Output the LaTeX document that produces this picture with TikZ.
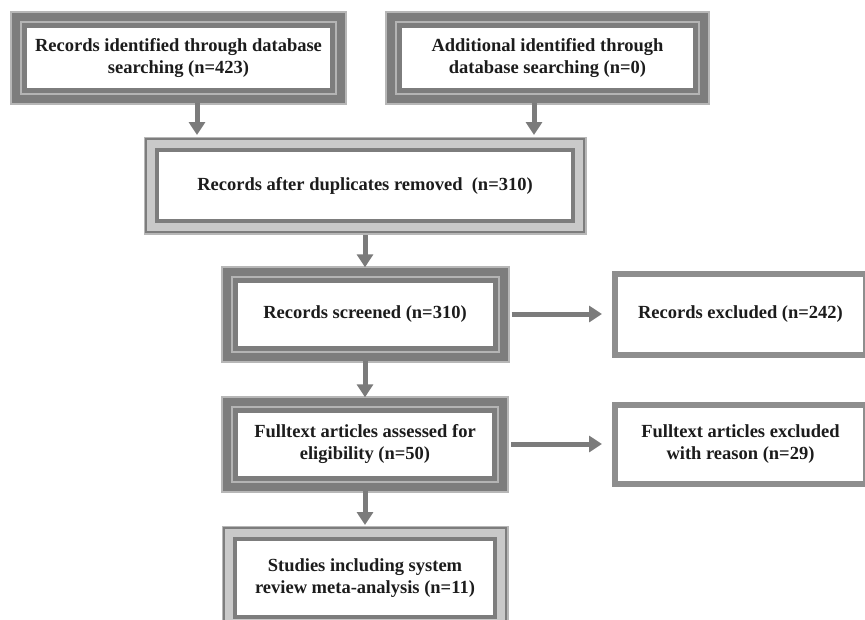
\documentclass[tikz,border=0pt]{standalone}
\usepackage{fontspec}
\setmainfont{Liberation Serif}
\usetikzlibrary{arrows.meta}
\definecolor{frame}{HTML}{7D7D7D}
\definecolor{frameL}{HTML}{B4B4B4}
\definecolor{band}{HTML}{C9C9C9}
\definecolor{frameC}{HTML}{8E8E8E}
\definecolor{arrc}{HTML}{7B7B7B}
\definecolor{txt}{HTML}{1C1C1C}
\begin{document}
\begin{tikzpicture}[x=1pt,y=-1pt,
  txtstyle/.style={font=\bfseries\fontsize{18.5}{22.5}\selectfont, text=txt, align=center, inner sep=0pt, rectangle},
  boxA/.style={txtstyle, fill=white,
     preaction={draw=frame!55, line width=34pt},
     preaction={draw=frame, line width=30pt},
     preaction={draw=frameL, line width=14pt},
     preaction={draw=frame, line width=10pt}},
  boxB/.style={txtstyle, fill=white, draw=frame, line width=4pt,
     preaction={draw=frame!55, line width=27pt},
     preaction={draw=frame, line width=24pt},
     preaction={draw=band, line width=20pt}},
  boxC/.style={txtstyle, fill=white, draw=frameC, line width=6pt},
  arr/.style={draw=arrc, line width=5pt, -{Triangle[width=16pt,length=13pt]}}
]
\useasboundingbox (0,0) rectangle (865,619);

\node[boxA, minimum width=303pt, minimum height=60pt] (b1) at (178.5,58)
  {Records identified through database\\searching (n=423)};
\node[boxA, minimum width=291pt, minimum height=60pt] (b2) at (547.5,58)
  {Additional identified through\\database searching (n=0)};
\node[boxB, minimum width=416pt, minimum height=71pt] (b3) at (365,185.5)
  {Records after duplicates removed\ \ (n=310)};
\node[boxA, minimum width=255pt, minimum height=63pt] (b4) at (365,314)
  {Records screened (n=310)};
\node[boxC, minimum width=251pt, minimum height=81pt] (b5) at (740.5,314)
  {Records excluded (n=242)};
\node[boxA, minimum width=254pt, minimum height=63pt] (b6) at (365,444)
  {Fulltext articles assessed for\\eligibility (n=50)};
\node[boxC, minimum width=251pt, minimum height=79pt] (b7) at (740.5,444)
  {Fulltext articles excluded\\with reason (n=29)};
\node[boxB, minimum width=260pt, minimum height=78pt] (b8) at (365,578)
  {Studies including system\\review meta-analysis (n=11)};

\coordinate (b3top) at ([yshift=13pt]b3.north);
\coordinate (a1s) at ([xshift=18.5pt,yshift=-15pt]b1.south);
\coordinate (a2s) at ([xshift=-13.5pt,yshift=-15pt]b2.south);
\draw[arr] (a1s) -- (a1s |- b3top);
\draw[arr] (a2s) -- (a2s |- b3top);
\draw[arr] ([yshift=-12pt]b3.south) -- ([yshift=15pt]b4.north);
\draw[arr] ([yshift=-15pt]b4.south) -- ([yshift=15pt]b6.north);
\draw[arr] ([yshift=-15pt]b6.south) -- ([yshift=12pt]b8.north);
\draw[arr] ([xshift=19pt]b4.east) -- ([xshift=-10pt]b5.west);
\draw[arr] ([xshift=19pt]b6.east) -- ([xshift=-10pt]b7.west);
\end{tikzpicture}
\end{document}
